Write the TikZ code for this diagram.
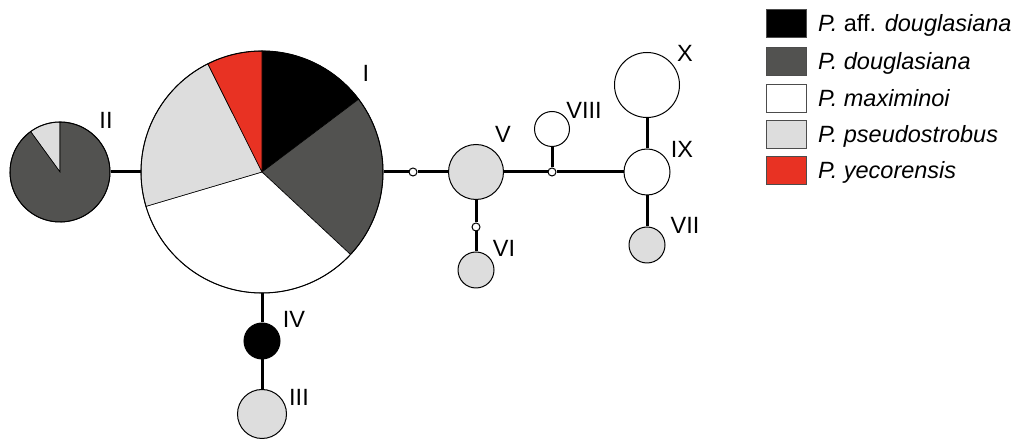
\documentclass[tikz,border=0pt]{standalone}
\usepackage{fontspec}
\setmainfont{Liberation Sans}
\definecolor{dgrey}{RGB}{82,82,80}
\definecolor{lgrey}{RGB}{221,221,221}
\definecolor{pred}{RGB}{232,50,35}
\begin{document}
\begin{tikzpicture}[x=1pt,y=1pt,
  hap/.style={circle,draw=black,line width=1pt,inner sep=0pt,minimum size=#1pt},
  conn/.style={line width=3pt,black},
  wedge/.style={draw=black,line width=0.6pt},
  lab/.style={font=\fontsize{23.5}{26}\selectfont,inner sep=0pt},
  legbox/.style={draw=black!70,line width=0.8pt,minimum width=40pt,minimum height=28pt,inner sep=0pt},
  legtext/.style={anchor=base west,font=\fontsize{23.5}{26}\selectfont,inner sep=0pt}]
\useasboundingbox (0,0) rectangle (1021,439);
\fill[white] (0,0) rectangle (1021,439);

% haplotype I: pie of five species
\coordinate (Ic) at (262,267);
\foreach \a/\b/\c in {90/37/black, 37/-43/dgrey, -43/-163.5/white, -163.5/-243.4/lgrey, -243.4/-270/pred}
  \filldraw[wedge,fill=\c] (Ic) -- ++(\a:121) arc[start angle=\a,end angle=\b,radius=121] -- cycle;
\node[hap=242] (I) at (Ic) {};

% haplotype II
\coordinate (IIc) at (60,267);
\foreach \a/\b/\c in {90/126/lgrey, 126/450/dgrey}
  \filldraw[wedge,fill=\c] (IIc) -- ++(\a:50) arc[start angle=\a,end angle=\b,radius=50] -- cycle;
\node[hap=100] (II) at (IIc) {};

% single-species haplotypes
\node[hap=55,fill=lgrey] (V) at (476,267) {};
\node[hap=36,fill=lgrey] (VI) at (476,169) {};
\node[hap=35,fill=white] (VIII) at (552,310) {};
\node[hap=46,fill=white] (IX) at (647,267) {};
\node[hap=65,fill=white] (X) at (647,354) {};
\node[hap=36,fill=lgrey] (VII) at (647,194) {};
\node[hap=36,fill=black] (IV) at (262,98) {};
\node[hap=49,fill=lgrey] (III) at (262,25) {};

% missing (median) haplotypes
\node[hap=8,fill=white] (ma) at (413,267) {};
\node[hap=8,fill=white] (mb) at (476,212) {};
\node[hap=8,fill=white] (mc) at (552,267) {};

% network connections
\draw[conn] (II) -- (I);
\draw[conn] (I) -- (ma);
\draw[conn] (ma) -- (V);
\draw[conn] (V) -- (mc);
\draw[conn] (mc) -- (IX);
\draw[conn] (mc) -- (VIII);
\draw[conn] (V) -- (mb);
\draw[conn] (mb) -- (VI);
\draw[conn] (IX) -- (X);
\draw[conn] (IX) -- (VII);
\draw[conn] (I) -- (IV);
\draw[conn] (IV) -- (III);

% haplotype labels
\node[lab] (lI) at (366,366) {I};
\node[lab] (lII) at (106,319) {II};
\node[lab] (lIII) at (299,42) {III};
\node[lab] (lIV) at (294,120) {IV};
\node[lab] (lV) at (503,305) {V};
\node[lab] (lVI) at (504,191) {VI};
\node[lab] (lVII) at (685,214) {VII};
\node[lab] (lVIII) at (584,329) {VIII};
\node[lab] (lIX) at (682,290) {IX};
\node[lab] (lX) at (685,386) {X};

% legend
\node[legbox,fill=black] (k1) at (786,416) {};
\node[legbox,fill=dgrey] (k2) at (786,378) {};
\node[legbox,fill=white] (k3) at (786,341) {};
\node[legbox,fill=lgrey] (k4) at (786,305) {};
\node[legbox,fill=pred] (k5) at (786,269) {};
\node[legtext] (t1) at (818,407.5) {\textit{P.} aff. \textit{douglasiana}};
\node[legtext] (t2) at (818,369.5) {\textit{P. douglasiana}};
\node[legtext] (t3) at (818,332.5) {\textit{P. maximinoi}};
\node[legtext] (t4) at (818,296.5) {\textit{P. pseudostrobus}};
\node[legtext] (t5) at (818,260.5) {\textit{P. yecorensis}};
\end{tikzpicture}
\end{document}
